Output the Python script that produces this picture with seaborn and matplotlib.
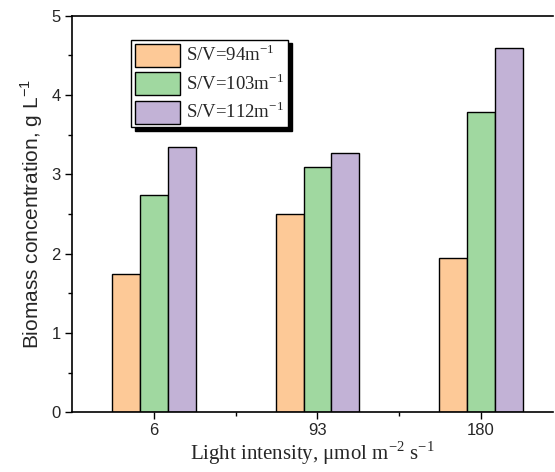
import matplotlib
matplotlib.use("Agg")
import matplotlib.pyplot as plt
from matplotlib.ticker import MultipleLocator, FixedLocator
import seaborn as sns
import pandas as pd

categories = ["6", "93", "180"]
series_names = ["S/V=94m$^{\\mathregular{-1}}$", "S/V=103m$^{\\mathregular{-1}}$", "S/V=112m$^{\\mathregular{-1}}$"]
sv94 = [1.75, 2.50, 1.94]
sv103 = [2.74, 3.09, 3.79]
sv112 = [3.34, 3.27, 4.59]
colors = ["#FDC997", "#A0D8A0", "#C2B2D6"]

rows = []
for name, vals in zip(series_names, [sv94, sv103, sv112]):
    for c, v in zip(categories, vals):
        rows.append({"Light": c, "Series": name, "Biomass": v})
df = pd.DataFrame(rows)

sns.set_theme(style="white")
plt.rcParams["font.family"] = ["Liberation Sans", "DejaVu Sans"]
plt.rcParams["axes.unicode_minus"] = False

fig = plt.figure(figsize=(5.55, 4.72), dpi=100)
ax = fig.add_axes([72/555, 1-412.3/472, 481/555, (412.3-15.8)/472])

sns.barplot(data=df, x="Light", y="Biomass", hue="Series", order=categories,
            hue_order=series_names, palette=colors, width=0.51, gap=0,
            edgecolor="black", linewidth=1.0, saturation=1, ax=ax)

ax.set_xlim(-0.5, 2.44)
ax.set_ylim(0, 5)
ax.yaxis.set_major_locator(MultipleLocator(1))
ax.yaxis.set_minor_locator(MultipleLocator(0.5))
ax.xaxis.set_minor_locator(FixedLocator([0.5, 1.5]))
ax.tick_params(axis="both", which="both", direction="out", color="black",
               left=True, bottom=True, top=False, right=False)
ax.tick_params(axis="both", which="major", length=5, width=1, labelsize=12, pad=3)
ax.tick_params(axis="both", which="minor", length=3, width=1)

for s in ["left", "bottom", "top"]:
    ax.spines[s].set_visible(True)
    ax.spines[s].set_color("black")
    ax.spines[s].set_linewidth(1.2)
ax.spines["right"].set_visible(False)

ax.set_ylabel("Biomass concentration, g L$^{\\mathregular{-1}}$", fontsize=15,
              family="Liberation Sans", labelpad=5)
ax.set_xlabel("Light intensity, μmol m$^{\\mathregular{-2}}$ s$^{\\mathregular{-1}}$",
              fontsize=15, family="Liberation Serif", labelpad=1)

leg = ax.legend(loc="upper left", bbox_to_anchor=(0.123, 0.939), frameon=True,
                fancybox=False, edgecolor="black", framealpha=1,
                shadow={"color": "black", "alpha": 1, "ox": 2.5, "oy": -2.5},
                prop={"family": "Liberation Serif", "size": 13.5},
                handlelength=2.4, handleheight=1.5, handletextpad=0.35,
                labelspacing=0.3, borderpad=0.2, borderaxespad=0)
leg.get_frame().set_linewidth(1.0)
ax.grid(False)

fig.savefig("out.png", dpi=100)
